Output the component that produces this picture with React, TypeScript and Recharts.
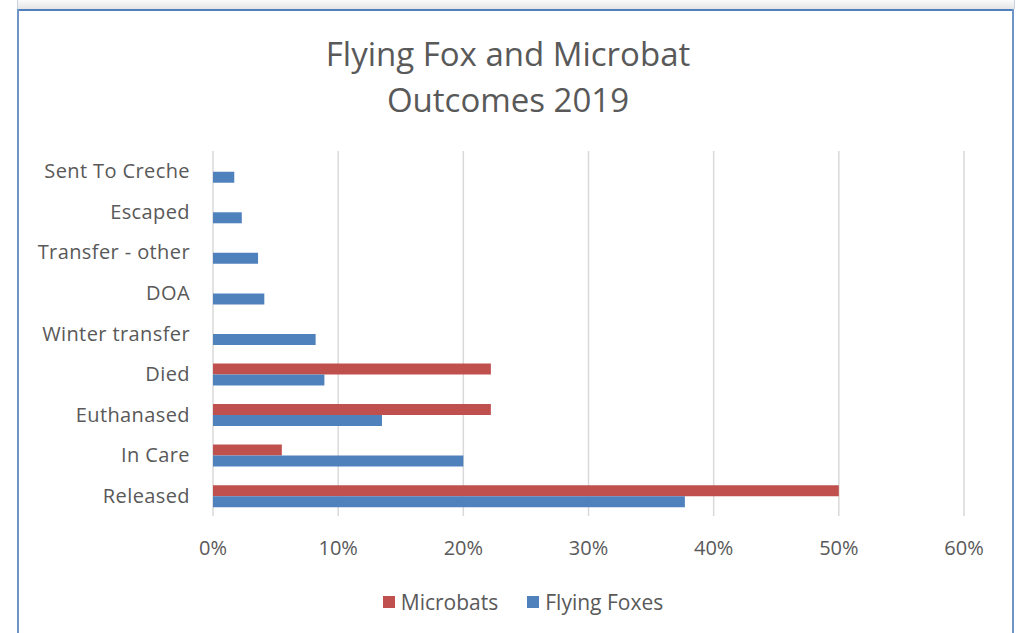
import React from "react";
import { BarChart, Bar, XAxis, YAxis, CartesianGrid, Legend } from "recharts";

const categories = [
  "Sent To Creche",
  "Escaped",
  "Transfer - other",
  "DOA",
  "Winter transfer",
  "Died",
  "Euthanased",
  "In Care",
  "Released",
];
const microbats: (number | null)[] = [null, null, null, null, null, 22.2, 22.2, 5.5, 50.0];
const flyingFoxes: number[] = [1.7, 2.3, 3.6, 4.1, 8.2, 8.9, 13.5, 20.0, 37.7];
const xTicks = [0, 10, 20, 30, 40, 50, 60];
const seriesNames = ["Microbats", "Flying Foxes"];
const seriesColors = ["#C0504D", "#4F81BD"];

const data = categories.map((name, i) => ({
  name,
  microbats: microbats[i],
  flyingFoxes: flyingFoxes[i],
}));

const FONT = "'Open Sans', 'Noto Sans', sans-serif";
const TEXT = "#595959";

const LegendContent = () => (
  <div style={{ display: "flex", justifyContent: "center", alignItems: "center", fontFamily: FONT, fontSize: 21, color: TEXT, height: 28, paddingLeft: 30 }}>
    {seriesNames.map((n, i) => (
      <span key={n} style={{ display: "inline-flex", alignItems: "center", marginLeft: i ? 29 : 0 }}>
        <span style={{ display: "inline-block", width: 12, height: 12, background: seriesColors[i], marginRight: 6 }} />
        {n}
      </span>
    ))}
  </div>
);

export default function App() {
  return (
    <div style={{ position: "absolute", left: 0, top: 0, width: 1016, height: 633, background: "#fff", overflow: "hidden", fontFamily: FONT }}>
      {/* frame */}
      <div style={{ position: "absolute", left: 17, top: 0, width: 996, height: 9, background: "linear-gradient(#fafafa, #e4e4e4)", borderLeft: "1px solid #c9d4e2", borderRight: "1px solid #c9d4e2" }} />
      <div style={{ position: "absolute", left: 17, top: 9, width: 997, height: 2, background: "#4f7fbf" }} />
      <div style={{ position: "absolute", left: 17, top: 9, width: 2, height: 624, background: "#6f94c6" }} />
      <div style={{ position: "absolute", left: 1012, top: 9, width: 2, height: 624, background: "#6f94c6" }} />
      {/* title */}
      <div style={{ position: "absolute", left: 0, top: 31, width: 1016, textAlign: "center", color: TEXT, fontSize: 33, lineHeight: "46px" }}>
        Flying Fox and Microbat
        <br />
        Outcomes 2019
      </div>
      <div style={{ position: "absolute", left: 0, top: 0 }}>
        <BarChart
          width={1016}
          height={633}
          data={data}
          layout="vertical"
          margin={{ top: 151, right: 52, bottom: 59, left: 0 }}
          barCategoryGap="24%"
          barGap={0}
        >
          <CartesianGrid horizontal={false} vertical={true} stroke="#d9d9d9" strokeWidth={1.5} />
          <XAxis
            type="number"
            domain={[0, 60]}
            ticks={xTicks}
            tickFormatter={(v: number) => `${v}%`}
            axisLine={false}
            tickLine={false}
            tickMargin={19}
            height={30}
            tick={{ fill: TEXT, fontSize: 20, fontFamily: FONT }}
            interval={0}
          />
          <YAxis
            type="category"
            dataKey="name"
            width={213}
            axisLine={false}
            tickLine={false}
            tickMargin={17}
            interval={0}
            tick={{ fill: TEXT, fontSize: 20, fontFamily: FONT, letterSpacing: 0.4 }}
          />
          <Legend
            verticalAlign="bottom"
            align="center"
            content={<LegendContent />}
            wrapperStyle={{ top: 588, left: 0, width: 1016 }}
          />
          <Bar dataKey="microbats" name="Microbats" fill="#C0504D" isAnimationActive={false} />
          <Bar dataKey="flyingFoxes" name="Flying Foxes" fill="#4F81BD" isAnimationActive={false} />
        </BarChart>
      </div>
    </div>
  );
}
